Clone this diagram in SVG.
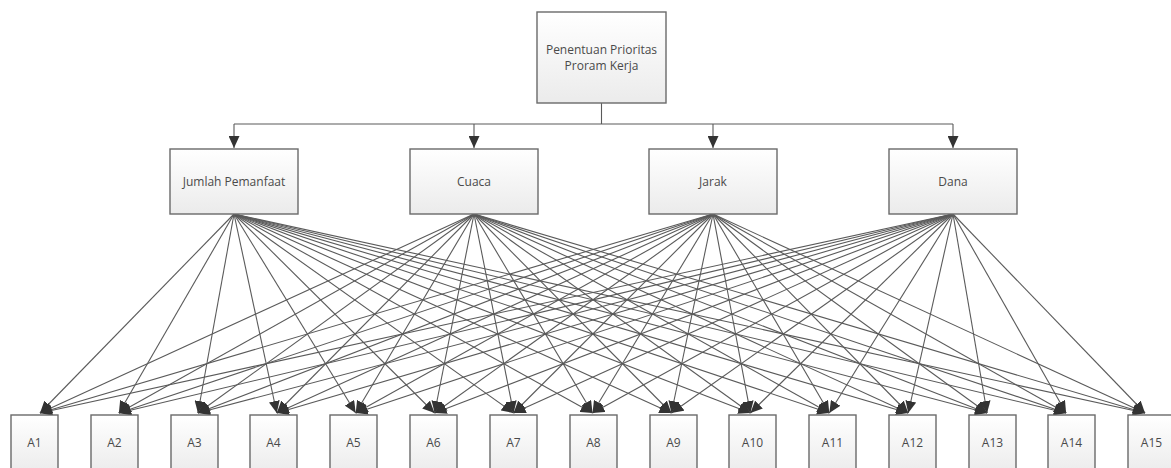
<svg xmlns="http://www.w3.org/2000/svg" width="1171" height="468" viewBox="0 0 1171 468">
<style>
.box{fill:url(#g);stroke:#6a6a6a;stroke-width:1.4}
.t{font-family:"Open Sans","Noto Sans","Liberation Sans",sans-serif;font-size:12px;fill:#4a4a4a;text-anchor:middle}
.c{fill:none;stroke:#5a5a5a;stroke-width:1.1}
.a{marker-end:url(#ar)}
</style>
<defs>
<linearGradient id="g" x1="0" y1="0" x2="0" y2="1">
<stop offset="0" stop-color="#ffffff"/>
<stop offset="1" stop-color="#ebebeb"/>
</linearGradient>
<marker id="ar" markerUnits="userSpaceOnUse" markerWidth="13" markerHeight="11" refX="12" refY="5.5" orient="auto">
<path d="M0,0 L12,5.5 L0,11 Z" fill="#333"/>
</marker>
</defs>
<g id="connectors">
<path class="c" d="M601.5,103 V124 M234,124 H953"/>
<path class="c a" d="M234,124 V148"/>
<path class="c a" d="M474,124 V148"/>
<path class="c a" d="M713,124 V148"/>
<path class="c a" d="M953,124 V148"/>
<g class="c a">
<line x1="234" y1="214" x2="40" y2="413"/><line x1="234" y1="214" x2="118.9" y2="413"/><line x1="234" y1="214" x2="197.9" y2="413"/><line x1="234" y1="214" x2="276.8" y2="413"/><line x1="234" y1="214" x2="355.7" y2="413"/><line x1="234" y1="214" x2="434.6" y2="413"/><line x1="234" y1="214" x2="513.6" y2="413"/><line x1="234" y1="214" x2="592.5" y2="413"/><line x1="234" y1="214" x2="671.4" y2="413"/><line x1="234" y1="214" x2="750.4" y2="413"/><line x1="234" y1="214" x2="829.3" y2="413"/><line x1="234" y1="214" x2="908.2" y2="413"/><line x1="234" y1="214" x2="987.1" y2="413"/><line x1="234" y1="214" x2="1066.1" y2="413"/><line x1="234" y1="214" x2="1145" y2="413"/>
<line x1="474" y1="214" x2="40" y2="413"/><line x1="474" y1="214" x2="118.9" y2="413"/><line x1="474" y1="214" x2="197.9" y2="413"/><line x1="474" y1="214" x2="276.8" y2="413"/><line x1="474" y1="214" x2="355.7" y2="413"/><line x1="474" y1="214" x2="434.6" y2="413"/><line x1="474" y1="214" x2="513.6" y2="413"/><line x1="474" y1="214" x2="592.5" y2="413"/><line x1="474" y1="214" x2="671.4" y2="413"/><line x1="474" y1="214" x2="750.4" y2="413"/><line x1="474" y1="214" x2="829.3" y2="413"/><line x1="474" y1="214" x2="908.2" y2="413"/><line x1="474" y1="214" x2="987.1" y2="413"/><line x1="474" y1="214" x2="1066.1" y2="413"/><line x1="474" y1="214" x2="1145" y2="413"/>
<line x1="713" y1="214" x2="40" y2="413"/><line x1="713" y1="214" x2="118.9" y2="413"/><line x1="713" y1="214" x2="197.9" y2="413"/><line x1="713" y1="214" x2="276.8" y2="413"/><line x1="713" y1="214" x2="355.7" y2="413"/><line x1="713" y1="214" x2="434.6" y2="413"/><line x1="713" y1="214" x2="513.6" y2="413"/><line x1="713" y1="214" x2="592.5" y2="413"/><line x1="713" y1="214" x2="671.4" y2="413"/><line x1="713" y1="214" x2="750.4" y2="413"/><line x1="713" y1="214" x2="829.3" y2="413"/><line x1="713" y1="214" x2="908.2" y2="413"/><line x1="713" y1="214" x2="987.1" y2="413"/><line x1="713" y1="214" x2="1066.1" y2="413"/><line x1="713" y1="214" x2="1145" y2="413"/>
<line x1="953" y1="214" x2="40" y2="413"/><line x1="953" y1="214" x2="118.9" y2="413"/><line x1="953" y1="214" x2="197.9" y2="413"/><line x1="953" y1="214" x2="276.8" y2="413"/><line x1="953" y1="214" x2="355.7" y2="413"/><line x1="953" y1="214" x2="434.6" y2="413"/><line x1="953" y1="214" x2="513.6" y2="413"/><line x1="953" y1="214" x2="592.5" y2="413"/><line x1="953" y1="214" x2="671.4" y2="413"/><line x1="953" y1="214" x2="750.4" y2="413"/><line x1="953" y1="214" x2="829.3" y2="413"/><line x1="953" y1="214" x2="908.2" y2="413"/><line x1="953" y1="214" x2="987.1" y2="413"/><line x1="953" y1="214" x2="1066.1" y2="413"/><line x1="953" y1="214" x2="1145" y2="413"/>
</g>
</g>
<g id="root"><rect class="box" x="537" y="12" width="129" height="91"/><text class="t" x="601.5" y="54">Penentuan Prioritas</text><text class="t" x="601.5" y="70">Proram Kerja</text></g>
<g id="c1"><rect class="box" x="170" y="149" width="128" height="65"/><text class="t" x="234" y="186">Jumlah Pemanfaat</text></g>
<g id="c2"><rect class="box" x="410" y="149" width="128" height="65"/><text class="t" x="474" y="186">Cuaca</text></g>
<g id="c3"><rect class="box" x="649" y="149" width="128" height="65"/><text class="t" x="713" y="186">Jarak</text></g>
<g id="c4"><rect class="box" x="889" y="149" width="128" height="65"/><text class="t" x="953" y="186">Dana</text></g>
<g id="A1"><rect class="box" x="11" y="415" width="47" height="60"/><text class="t" x="34.5" y="447">A1</text></g>
<g id="A2"><rect class="box" x="91" y="415" width="47" height="60"/><text class="t" x="114.5" y="447">A2</text></g>
<g id="A3"><rect class="box" x="171" y="415" width="47" height="60"/><text class="t" x="194.5" y="447">A3</text></g>
<g id="A4"><rect class="box" x="250" y="415" width="47" height="60"/><text class="t" x="273.5" y="447">A4</text></g>
<g id="A5"><rect class="box" x="330" y="415" width="47" height="60"/><text class="t" x="353.5" y="447">A5</text></g>
<g id="A6"><rect class="box" x="410" y="415" width="47" height="60"/><text class="t" x="433.5" y="447">A6</text></g>
<g id="A7"><rect class="box" x="490" y="415" width="47" height="60"/><text class="t" x="513.5" y="447">A7</text></g>
<g id="A8"><rect class="box" x="570" y="415" width="47" height="60"/><text class="t" x="593.5" y="447">A8</text></g>
<g id="A9"><rect class="box" x="650" y="415" width="47" height="60"/><text class="t" x="673.5" y="447">A9</text></g>
<g id="A10"><rect class="box" x="729" y="415" width="47" height="60"/><text class="t" x="752.5" y="447">A10</text></g>
<g id="A11"><rect class="box" x="809" y="415" width="47" height="60"/><text class="t" x="832.5" y="447">A11</text></g>
<g id="A12"><rect class="box" x="889" y="415" width="47" height="60"/><text class="t" x="912.5" y="447">A12</text></g>
<g id="A13"><rect class="box" x="969" y="415" width="47" height="60"/><text class="t" x="992.5" y="447">A13</text></g>
<g id="A14"><rect class="box" x="1048" y="415" width="47" height="60"/><text class="t" x="1071.5" y="447">A14</text></g>
<g id="A15"><rect class="box" x="1128" y="415" width="47" height="60"/><text class="t" x="1151.5" y="447">A15</text></g>
</svg>
